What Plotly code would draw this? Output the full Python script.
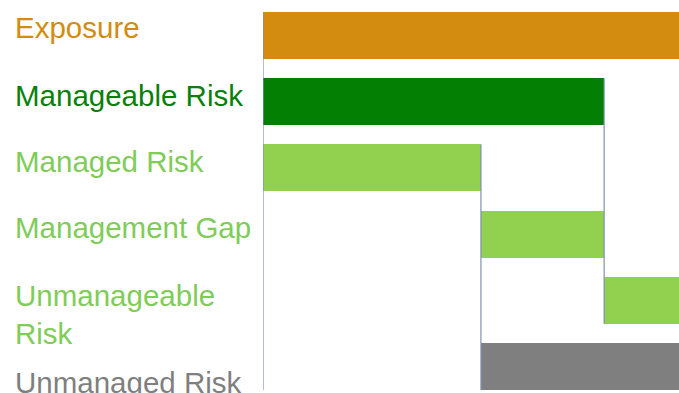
import plotly.graph_objects as go

categories = ["Exposure", "Manageable Risk", "Managed Risk", "Management Gap",
              "Unmanageable Risk", "Unmanaged Risk"]
label_text = ["Exposure", "Manageable Risk", "Managed Risk", "Management Gap",
              "Unmanageable<br>Risk", "Unmanaged Risk"]
bar_start = [0, 0, 0, 46, 72, 46]
bar_length = [100, 72, 46, 26, 28, 54]

bar_colors = ["#D48C10", "#037F03", "#92D050", "#92D050", "#92D050", "#7F7F7F"]
label_colors = ["#D38C12", "#0A800A", "#80CC58", "#80CC58", "#80CC58", "#7F7F7F"]
label_yshift = [-8, -6, -6, -7, 14, 16]

W, H = 679, 393
half = 0.355
line_color = "#8090B0"

fig = go.Figure()
fig.add_trace(go.Bar(
    y=categories, x=bar_length, base=bar_start, orientation="h",
    marker=dict(color=bar_colors, line=dict(width=0)),
    width=0.71, hoverinfo="skip", showlegend=False,
))

idx = {c: i for i, c in enumerate(categories)}
shapes = []
shapes.append(dict(type="line", xref="x", yref="y", x0=0, x1=0,
                   y0=-half, y1=len(categories) - 1 + half,
                   line=dict(color=line_color, width=1.2)))
managed_end = bar_start[idx["Managed Risk"]] + bar_length[idx["Managed Risk"]]
shapes.append(dict(type="line", xref="x", yref="y", x0=managed_end, x1=managed_end,
                   y0=idx["Managed Risk"] - half, y1=idx["Unmanaged Risk"] + half,
                   line=dict(color=line_color, width=1.2)))
manageable_end = bar_start[idx["Manageable Risk"]] + bar_length[idx["Manageable Risk"]]
shapes.append(dict(type="line", xref="x", yref="y", x0=manageable_end, x1=manageable_end,
                   y0=idx["Manageable Risk"] - half, y1=idx["Unmanageable Risk"] + half,
                   line=dict(color=line_color, width=1.2)))

annotations = []
for i, (t, col) in enumerate(zip(label_text, label_colors)):
    annotations.append(dict(
        xref="paper", yref="y", x=0, y=categories[i], xanchor="left", yanchor="middle",
        xshift=-250, yshift=-label_yshift[i], text=t, showarrow=False, align="left",
        font=dict(family="Liberation Sans, Arial, sans-serif", size=29.5, color=col),
    ))

fig.update_layout(
    width=W, height=H,
    margin=dict(l=263, r=0, t=12, b=3),
    paper_bgcolor="white", plot_bgcolor="white",
    xaxis=dict(range=[0, 87.8], showgrid=False, zeroline=False, showticklabels=False,
               showline=False, ticks=""),
    yaxis=dict(type="category", categoryorder="array", categoryarray=categories,
               range=[len(categories) - 1 + half, -half], showgrid=False, zeroline=False,
               showticklabels=False, showline=False, ticks=""),
    shapes=shapes, annotations=annotations, bargap=0,
)

fig.write_html("out.html", config={"displayModeBar": False},
               post_script="document.body.style.margin='0';document.body.style.overflow='hidden';")
